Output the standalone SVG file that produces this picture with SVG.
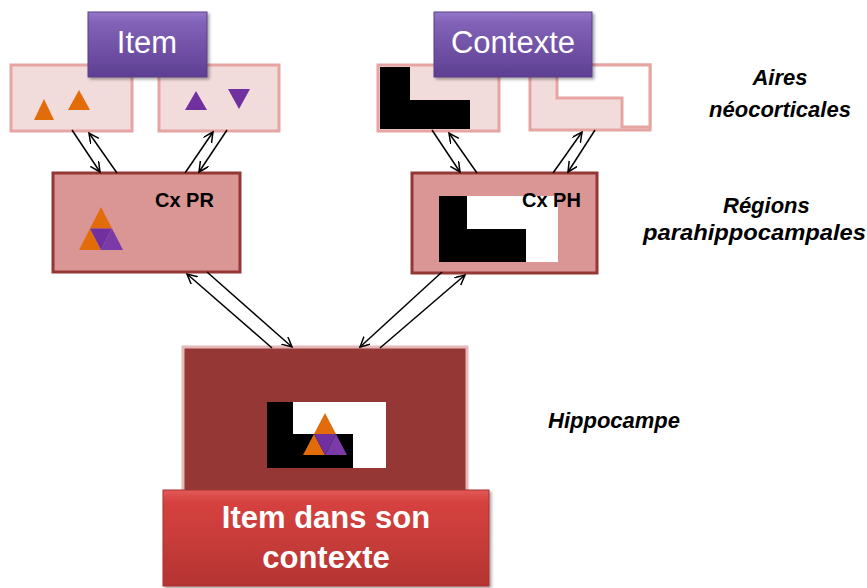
<svg xmlns="http://www.w3.org/2000/svg" width="867" height="588" viewBox="0 0 867 588">
<defs>
  <linearGradient id="gPurple" x1="0" y1="0" x2="0" y2="1">
    <stop offset="0" stop-color="#9577c9"/>
    <stop offset="0.15" stop-color="#8263b8"/>
    <stop offset="1" stop-color="#5e3f92"/>
  </linearGradient>
  <linearGradient id="gRed" x1="0" y1="0" x2="0" y2="1">
    <stop offset="0" stop-color="#e25a58"/>
    <stop offset="0.12" stop-color="#d6423f"/>
    <stop offset="1" stop-color="#b53432"/>
  </linearGradient>
  <filter id="shadow" x="-10%" y="-10%" width="125%" height="130%">
    <feDropShadow dx="2" dy="2" stdDeviation="1.5" flood-color="#000" flood-opacity="0.35"/>
  </filter>
  <marker id="arr" markerWidth="12" markerHeight="12" refX="10" refY="5" orient="auto" markerUnits="userSpaceOnUse">
    <path d="M0,0 L10,5 L0,10" fill="none" stroke="#000" stroke-width="1.5"/>
  </marker>
</defs>
<style>
  .neo { fill:#f2dcdb; stroke:#e6a5a2; stroke-width:3; }
  .cx { fill:#d99694; stroke:#953735; stroke-width:3; }
  .hip { fill:#953735; stroke:#e6b9b8; stroke-width:3; }
  .title { fill:url(#gPurple); stroke:#5a3d86; stroke-width:1; filter:url(#shadow); }
  .ttxt { font-family:"Liberation Sans", Arial, sans-serif; font-size:31px; fill:#fff; text-anchor:middle; }
  .cxtxt { font-family:"Liberation Sans", Arial, sans-serif; font-size:20px; font-weight:bold; fill:#000; }
  .lbl { font-family:"Liberation Sans", Arial, sans-serif; font-size:22px; font-weight:bold; font-style:italic; fill:#000; }
  .org { fill:#e36c0a; }
  .pur { fill:#7030a0; }
  .pur2 { fill:#7a3aa8; }
  .conn line { stroke:#000; stroke-width:1.5; marker-end:url(#arr); }
</style>
<rect width="867" height="588" fill="#fff"/>

<!-- Neocortical areas -->
<g id="neo-item-1">
  <rect class="neo" x="11" y="65" width="121" height="66"/>
  <polygon class="org" points="44,99 54,120 34,120"/>
  <polygon class="org" points="79,90 90,110 68,110"/>
</g>
<g id="neo-item-2">
  <rect class="neo" x="159" y="65" width="120" height="66"/>
  <polygon class="pur" points="196,91 207,110 185,110"/>
  <polygon class="pur" points="228,89 250,89 239,109"/>
</g>
<g id="neo-ctx-1">
  <rect class="neo" x="378" y="65" width="121" height="66"/>
  <polygon fill="#000" points="380,67 410,67 410,100 470,100 470,129 380,129"/>
</g>
<g id="neo-ctx-2">
  <rect class="neo" x="530" y="65" width="120" height="65"/>
  <polygon fill="#fff" stroke="#e6a5a2" stroke-width="3" points="557,65 650,65 650,127 622,127 622,98 557,98"/>
</g>

<!-- Title boxes -->
<g id="item-title">
  <rect class="title" x="88" y="12" width="119" height="65"/>
  <text class="ttxt" x="147" y="53">Item</text>
</g>
<g id="contexte-title">
  <rect class="title" x="434" y="12" width="158" height="65"/>
  <text class="ttxt" x="513" y="53">Contexte</text>
</g>

<!-- Parahippocampal regions -->
<g id="cx-pr">
  <rect class="cx" x="53" y="173" width="187" height="99"/>
  <text class="cxtxt" x="155" y="207">Cx PR</text>
  <polygon class="org" points="101,207 112,228.5 90,228.5"/>
  <polygon class="org" points="90,228.5 101,250 79,250"/>
  <polygon class="pur" points="90,228.5 112,228.5 101,250"/>
  <polygon class="pur2" points="112,228.5 123,250 101,250"/>
</g>
<g id="cx-ph">
  <rect class="cx" x="412" y="173" width="185" height="100"/>
  <rect fill="#fff" x="439" y="196" width="119" height="66"/>
  <polygon fill="#000" points="439,196 467,196 467,229 526,229 526,262 439,262"/>
  <text class="cxtxt" x="522" y="207">Cx PH</text>
</g>

<!-- Hippocampus -->
<g id="hippocampe">
  <rect class="hip" x="183" y="347" width="284" height="150"/>
  <rect fill="#fff" x="267" y="402" width="119" height="66"/>
  <polygon fill="#000" points="267,402 293,402 293,434 353,434 353,468 267,468"/>
  <polygon class="org" points="325,413 336,434 314,434"/>
  <polygon class="org" points="314,434 325,455 303,455"/>
  <polygon class="pur" points="314,434 336,434 325,455"/>
  <polygon class="pur2" points="336,434 347,455 325,455"/>
</g>

<g id="item-contexte">
  <rect x="163" y="490" width="326" height="96" fill="url(#gRed)" stroke="#a83230" stroke-width="1" filter="url(#shadow)"/>
  <text class="ttxt" font-weight="bold" font-size="29" x="326" y="528">Item dans son</text>
  <text class="ttxt" font-weight="bold" font-size="29" x="326" y="568">contexte</text>
</g>

<!-- Side labels -->
<g id="labels">
  <text class="lbl" x="780" y="85" text-anchor="middle">Aires</text>
  <text class="lbl" x="780" y="117" text-anchor="middle">néocorticales</text>
  <text class="lbl" x="723" y="213">Régions</text>
  <text class="lbl" x="643" y="240" textLength="223" lengthAdjust="spacingAndGlyphs">parahippocampales</text>
  <text class="lbl" x="548" y="428">Hippocampe</text>
</g>

<!-- Connectors -->
<g id="connectors" class="conn">
  <line x1="72" y1="130" x2="100" y2="172"/>
  <line x1="117" y1="173" x2="89" y2="133"/>
  <line x1="185" y1="173" x2="213" y2="132"/>
  <line x1="227" y1="130" x2="199" y2="172"/>
  <line x1="432" y1="130" x2="460" y2="172"/>
  <line x1="477" y1="173" x2="449" y2="133"/>
  <line x1="553" y1="173" x2="582" y2="132"/>
  <line x1="595" y1="130" x2="568" y2="172"/>
  <line x1="272" y1="348" x2="187" y2="274"/>
  <line x1="207" y1="272" x2="292" y2="347"/>
  <line x1="442" y1="272" x2="360" y2="347"/>
  <line x1="380" y1="348" x2="465" y2="275"/>
</g>
</svg>
